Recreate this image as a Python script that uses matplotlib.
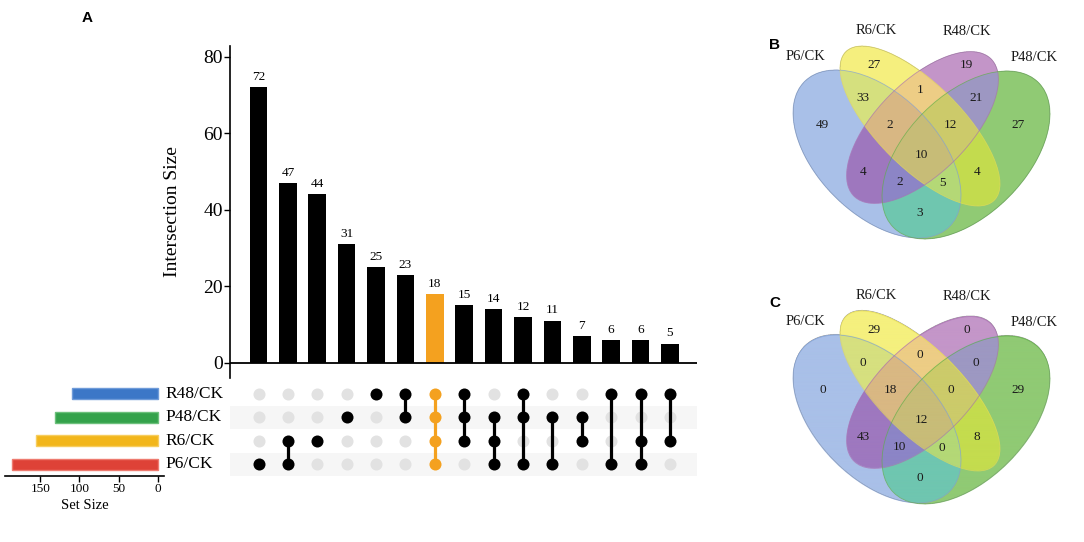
import numpy as np
import matplotlib
matplotlib.use("Agg")
import matplotlib.pyplot as plt
import matplotlib.transforms as mtransforms
from matplotlib.colors import to_rgba
from matplotlib.patches import Ellipse

plt.rcParams["font.family"] = ["Liberation Serif", "DejaVu Serif"]

# ---- panel A (upset) data ----
set_names = ["P6/CK", "R6/CK", "P48/CK", "R48/CK"]   # bottom -> top
set_sizes = [186, 156, 131, 110]
set_colors = ["#de4237", "#f2b61b", "#34a24b", "#3c77c7"]
set_edges = ["#ee7b70", "#f7cd5e", "#6cc07b", "#6f9bd9"]

intersection_sizes = [72, 47, 44, 31, 25, 23, 18, 15, 14, 12, 11, 7, 6, 6, 5]
intersection_members = [
    ["P6/CK"],
    ["P6/CK", "R6/CK"],
    ["R6/CK"],
    ["P48/CK"],
    ["R48/CK"],
    ["P48/CK", "R48/CK"],
    ["P6/CK", "R6/CK", "P48/CK", "R48/CK"],
    ["R6/CK", "P48/CK", "R48/CK"],
    ["P6/CK", "R6/CK", "P48/CK"],
    ["P6/CK", "P48/CK", "R48/CK"],
    ["P6/CK", "P48/CK"],
    ["R6/CK", "P48/CK"],
    ["P6/CK", "R48/CK"],
    ["P6/CK", "R6/CK", "R48/CK"],
    ["R6/CK", "R48/CK"],
]
highlight = 6
highlight_color = "#f4a11f"

# ---- panels B and C (venn) data ----
venn_sets = ["P6/CK", "R6/CK", "R48/CK", "P48/CK"]
venn_regions = ["P6", "R6", "R48", "P48", "P6&R6", "R6&R48", "R48&P48",
                "P6&R6&R48", "R6&R48&P48", "P6&R6&R48&P48", "P6&R48", "R6&P48",
                "P6&R48&P48", "P6&R6&P48", "P6&P48"]
venn_b_counts = [49, 27, 19, 27, 33, 1, 21, 2, 12, 10, 4, 4, 2, 5, 3]
venn_c_counts = [0, 29, 0, 29, 0, 0, 0, 18, 0, 12, 43, 8, 10, 0, 0]
region_colors = ["#a9c0e8", "#f5f07e", "#c496c9", "#90ca74", "#d6e07f",
                 "#edcd85", "#9d98c2", "#d9b883", "#cccb6a", "#c8bc78",
                 "#9e78bf", "#c4dc4e", "#8c85c6", "#b4d876", "#6fc6b0"]

W, H = 1084, 542
fig = plt.figure(figsize=(W / 100, H / 100), dpi=100)


def px_axes(x0, y0, x1, y1):
    return fig.add_axes([x0 / W, 1 - y1 / H, (x1 - x0) / W, (y1 - y0) / H])


# intersection bars
ax_bar = px_axes(230, 45.7, 697, 378)
xs = np.arange(len(intersection_sizes))
bar_colors = [highlight_color if i == highlight else "black" for i in xs]
ax_bar.bar(xs, intersection_sizes, width=0.6, color=bar_colors, zorder=2)
for xi, v in zip(xs, intersection_sizes):
    ax_bar.annotate(str(v), (xi, v), xytext=(0, 3), textcoords="offset points",
                    ha="center", va="bottom", fontsize=9.5)
ax_bar.set_xlim(-0.97, 14.92)
ax_bar.set_ylim(-4, 82.9)
ax_bar.axhline(0, color="black", lw=1.3, zorder=3)
ax_bar.set_yticks([0, 20, 40, 60, 80])
ax_bar.set_xticks([])
ax_bar.tick_params(axis="y", labelsize=14, length=4, width=1, pad=1)
for s in ["top", "right", "bottom"]:
    ax_bar.spines[s].set_visible(False)
ax_bar.spines["left"].set_linewidth(1.2)
ax_bar.set_ylabel("Intersection Size", fontsize=14, labelpad=16)

# matrix
ax_mat = px_axes(230, 382, 697, 476)
ax_mat.set_xlim(ax_bar.get_xlim())
ax_mat.set_ylim(-0.5, len(set_names) - 0.5)
for r in range(len(set_names)):
    if r % 2 == 0:
        ax_mat.axhspan(r - 0.5, r + 0.5, color="#f6f6f6", lw=0, zorder=0)
for i, members in enumerate(intersection_members):
    rows = [set_names.index(m) for m in members]
    others = [r for r in range(len(set_names)) if r not in rows]
    c = highlight_color if i == highlight else "black"
    ax_mat.scatter([i] * len(others), others, s=75, color="#e2e2e2", lw=0, zorder=2)
    if len(rows) > 1:
        ax_mat.plot([i, i], [min(rows), max(rows)], color=c, lw=2.3, zorder=3)
    ax_mat.scatter([i] * len(rows), rows, s=75, color=c, lw=0, zorder=4)
ax_mat.axis("off")
trans = mtransforms.blended_transform_factory(fig.transFigure, ax_mat.transData)
for r, name in enumerate(set_names):
    ax_mat.text(165 / W, r, name, transform=trans, ha="left", va="center",
                fontsize=12.5)

# set sizes
ax_set = px_axes(5, 382, 164, 476)
ax_set.barh(range(len(set_names)), set_sizes, height=0.48, color=set_colors,
            edgecolor=set_edges, lw=1)
ax_set.set_xlim(195, -8)
ax_set.set_ylim(-0.5, len(set_names) - 0.5)
ax_set.set_xticks([0, 50, 100, 150])
ax_set.set_yticks([])
ax_set.tick_params(axis="x", labelsize=9.5, length=4, width=1, pad=1)
for s in ["top", "right", "left"]:
    ax_set.spines[s].set_visible(False)
ax_set.spines["bottom"].set_linewidth(1.2)
ax_set.set_xlabel("Set Size", fontsize=10.5, labelpad=3)

# venn diagrams (coordinates in pixels of the panel frame)
# name, centre, semi-major, semi-minor, angle
ellipses = [
    ("P6/CK", (877, 154), 102.5, 60, 45),
    ("R6/CK", (920, 126), 105, 42, 45),
    ("R48/CK", (922.5, 127.5), 97, 46, -45),
    ("P48/CK", (966, 155), 102.5, 60, -45),
]
edge_colors = ["#7f9fd6", "#e6dc55", "#a96fb2", "#5fae48"]
set_label_xy = [(805.7, 56.7), (876, 30.7), (966.7, 31.7), (1034, 57.3)]
region_xy = [(822.7, 125), (874.3, 65), (966.7, 65), (1018.3, 125),
             (863.3, 98.3), (920, 90), (976, 98.3), (890, 125),
             (950.7, 125), (921.7, 155), (863.3, 171.7), (976.7, 171.7),
             (899.3, 181.7), (942.3, 183.3), (920, 212.7)]

# colour lookup by membership bit mask
bits = {"P6": 1, "R6": 2, "R48": 4, "P48": 8}
lut = np.zeros((16, 4))
for reg, col in zip(venn_regions, region_colors):
    mask = sum(bits[p] for p in reg.split("&"))
    lut[mask] = to_rgba(col)

gx = np.linspace(775, 1075, 1200)
gy = np.linspace(0, 270, 1080)
GX, GY = np.meshgrid(gx, gy)
member = np.zeros(GX.shape, dtype=int)
for k, (name, (cx, cy), a, b, ang) in enumerate(ellipses):
    t = np.deg2rad(ang)
    dx, dy = GX - cx, GY - cy
    u = dx * np.cos(t) + dy * np.sin(t)
    v = -dx * np.sin(t) + dy * np.cos(t)
    inside = (u / a) ** 2 + (v / b) ** 2 <= 1
    member |= inside * (1 << k)
venn_img = lut[member]


def draw_venn(ax, counts):
    ax.set_xlim(775, 1075)
    ax.set_ylim(270, 0)
    ax.axis("off")
    ax.imshow(venn_img, extent=(775, 1075, 270, 0), origin="upper",
              interpolation="antialiased", zorder=1)
    for (name, c, a, b, ang), ec in zip(ellipses, edge_colors):
        ax.add_patch(Ellipse(c, 2 * a, 2 * b, angle=ang, facecolor="none",
                             edgecolor=ec, lw=0.6, alpha=0.7, zorder=2))
    for name, (lx, ly) in zip(venn_sets, set_label_xy):
        ax.text(lx, ly, name, ha="center", va="center", fontsize=10.5,
                color="#1a1a1a")
    for n, (rx, ry) in zip(counts, region_xy):
        ax.text(rx, ry, str(n), ha="center", va="center", fontsize=9.5,
                color="#1a1a1a", zorder=3)
    ax.set_aspect("auto")


ax_b = px_axes(775, 0, 1075, 270)
draw_venn(ax_b, venn_b_counts)
ax_c = px_axes(775, 265, 1075, 535)
draw_venn(ax_c, venn_c_counts)

for letter, (lx, ly) in zip("ABC", [(86.7, 18.3), (775, 45), (775, 303)]):
    fig.text(lx / W, 1 - ly / H, letter, ha="center", va="center",
             fontsize=11, fontweight="bold", family="Liberation Sans")

fig.savefig("out.png", dpi=100)
